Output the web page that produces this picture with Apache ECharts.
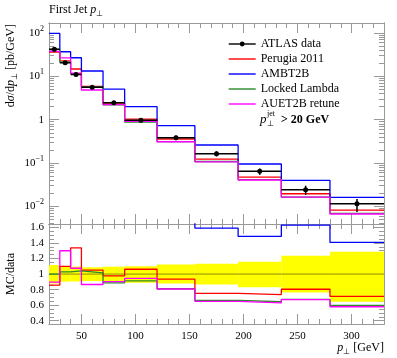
<!DOCTYPE html>
<html><head><meta charset="utf-8">
<script src="https://cdn.jsdelivr.net/npm/echarts@6/dist/echarts.min.js"></script>
<style>html,body{margin:0;padding:0;background:#fff}#c{width:397px;height:358px}</style>
</head><body><div id="c"></div>
<script>
// ---- data ----
const binEdges = [20,30,40,50,70,90,120,155,195,235,280,330];
const dataCenters = [25,35,45,60,80,105,137.5,175,215,257.5,305];
const atlasData = [42,20.6,11.1,5.6,2.47,0.97,0.384,0.164,0.0645,0.0243,0.0115];
const bandHi = [1.116,1.098,1.096,1.087,1.095,1.10,1.122,1.133,1.158,1.236,1.288];
const bandLo = [0.880,0.903,0.905,0.910,0.900,0.888,0.879,0.866,0.829,0.763,0.645];
const perugia = [36.1,22.7,14.8,5.88,2.41,1.03,0.359,0.1235,0.0475,0.0196,0.0082];
const ambt2b = [98,37,26.9,13.3,5.1,2.0,0.727,0.261,0.095,0.040,0.0162];
const lockedLambda = [42,21.2,11.55,5.69,2.19,0.885,0.311,0.1086,0.0415,0.0164,0.00688];
const auet2b = [37.7,26.8,11.9,4.85,2.23,0.918,0.310,0.1066,0.0406,0.0163,0.00667];
const ratioData = [1,1,1,1,1,1,1,1,1,1,1];
const ratioPerugia = [0.858,1.10,1.336,1.052,0.976,1.062,0.935,0.753,0.736,0.805,0.712];
const ratioAmbt2b = [2.33,1.80,2.42,2.38,2.06,2.06,1.89,1.592,1.484,1.63,1.407];
const ratioLocked = [1.0,1.028,1.041,1.016,0.886,0.912,0.811,0.662,0.644,0.675,0.598];
const ratioAuet2b = [0.897,1.30,1.075,0.866,0.902,0.946,0.808,0.65,0.629,0.671,0.58];
const xTickValues = [50,100,150,200,250,300];
const yTickValues = [0.01,0.1,1,10,100];
const yTickLabels = ['10{s|−2}','10{s|−1}','1','10{s|1}','10{s|2}'];
const ratioTickValues = [0.4,0.6,0.8,1,1.2,1.4,1.6];
const seriesNames = ['ATLAS data','Perugia 2011','AMBT2B','Locked Lambda','AUET2B retune'];
const seriesColors = ['#000000','#ff0000','#0000ff','#2a8a2a','#ff00ff'];

// ---- styling / layout ----
const FONT = 'Liberation Serif';
const AX = '#999999';
const X_MIN = 20, X_MAX = 330;
const Y_MIN = Math.pow(10,-2.406), Y_MAX = Math.pow(10,2.231);
const R_MIN = 0.358, R_MAX = 1.644;
const xMinor = []; for (let v = 20; v <= 330; v += 10) xMinor.push(v);
const yMinor = []; for (let e = -3; e <= 2; e++) for (let k = 2; k <= 9; k++) { const v = k*Math.pow(10,e); if (v > Y_MIN && v < Y_MAX) yMinor.push(v); }
const rMinor = []; for (let i = 8; i <= 32; i++) rMinor.push(Math.round(i*5)/100);

function stepData(vals){ const d = vals.map((v,i)=>[binEdges[i], v]); d.push([binEdges[binEdges.length-1], vals[vals.length-1]]); return d; }

function xAx(grid,pos,ticks,len,labels){
  return {type:'value',gridIndex:grid,position:pos,min:X_MIN,max:X_MAX,
    axisLine:{show:true,onZero:false,lineStyle:{color:AX,width:1}},
    axisTick:{show:true,inside:true,length:len,customValues:ticks,lineStyle:{color:AX,width:1}},
    axisLabel:{show:labels,customValues:xTickValues,margin:7,fontSize:11,fontFamily:FONT,color:'#000'},
    splitLine:{show:false}};
}
function yAxLog(grid,pos,ticks,len,labels){
  return {type:'log',logBase:10,gridIndex:grid,position:pos,min:Y_MIN,max:Y_MAX,
    axisLine:{show:true,onZero:false,lineStyle:{color:AX,width:1}},
    axisTick:{show:true,inside:true,length:len,customValues:ticks,lineStyle:{color:AX,width:1}},
    axisLabel:{show:labels,customValues:yTickValues,margin:5,fontSize:11,fontFamily:FONT,color:'#000',lineHeight:16,
      formatter:function(v){const i=yTickValues.findIndex(t=>Math.abs(Math.log10(t)-Math.log10(v))<1e-6);return i>=0?yTickLabels[i]:'';},
      rich:{s:{fontSize:8,fontFamily:FONT,lineHeight:8,verticalAlign:'top',color:'#000'}}},
    splitLine:{show:false}};
}
function yAxR(grid,pos,ticks,len,labels){
  return {type:'value',gridIndex:grid,position:pos,min:R_MIN,max:R_MAX,
    axisLine:{show:true,onZero:false,lineStyle:{color:AX,width:1}},
    axisTick:{show:true,inside:true,length:len,customValues:ticks,lineStyle:{color:AX,width:1}},
    axisLabel:{show:labels,customValues:ratioTickValues,margin:5,fontSize:11,fontFamily:FONT,color:'#000'},
    splitLine:{show:false}};
}

const g0 = {left:49,top:23,width:335,height:201};
const g1 = {left:49,top:224,width:335,height:100};

function mcTop(name,vals,color,z){
  return {type:'line',name:name,xAxisIndex:0,yAxisIndex:0,data:stepData(vals),step:'end',symbol:'none',
    lineStyle:{color:color,width:1.3},itemStyle:{color:color},silent:true,z:z};
}
function mcRatio(name,vals,color,z){
  return {type:'line',name:name,xAxisIndex:4,yAxisIndex:4,data:stepData(vals),step:'end',symbol:'none',clip:true,
    lineStyle:{color:color,width:1.3},itemStyle:{color:color},silent:true,z:z};
}

// data horizontal bars with marker at centre
const dataLine = [];
atlasData.forEach((v,i)=>{
  dataLine.push({value:[binEdges[i],v],symbol:'none'});
  dataLine.push({value:[dataCenters[i],v]});
  dataLine.push({value:[binEdges[i+1],v],symbol:'none'});
  dataLine.push({value:[binEdges[i+1],'-'],symbol:'none'});
});
const errData = atlasData.map((v,i)=>[dataCenters[i], v*bandLo[i], v*bandHi[i]]);
const bandData = bandLo.map((lo,i)=>[binEdges[i], binEdges[i+1], lo, bandHi[i]]);

const rich = {
  n:{fontFamily:FONT,fontSize:12,lineHeight:16,color:'#000'},
  i:{fontFamily:FONT,fontSize:12,fontStyle:'italic',lineHeight:16,color:'#000'},
  b:{fontFamily:FONT,fontSize:8,lineHeight:8,verticalAlign:'bottom',color:'#000'}
};

const legendData = seriesNames.map((n,i)=> i===0 ? {name:n} : {name:n,itemStyle:{opacity:0}});

const option = {
  animation:false,
  textStyle:{fontFamily:FONT},
  grid:[g0,g0,g1,g1],
  xAxis:[
    xAx(0,'bottom',xTickValues,10,false), xAx(0,'top',xTickValues,10,false),
    xAx(1,'bottom',xMinor,5,false), xAx(1,'top',xMinor,5,false),
    xAx(2,'bottom',xTickValues,10,true), xAx(2,'top',xTickValues,10,false),
    xAx(3,'bottom',xMinor,5,false), xAx(3,'top',xMinor,5,false)
  ],
  yAxis:[
    yAxLog(0,'left',yTickValues,10,true), yAxLog(0,'right',yTickValues,10,false),
    yAxLog(1,'left',yMinor,5,false), yAxLog(1,'right',yMinor,5,false),
    yAxR(2,'left',ratioTickValues,10,true), yAxR(2,'right',ratioTickValues,10,false),
    yAxR(3,'left',rMinor,5,false), yAxR(3,'right',rMinor,5,false)
  ],
  legend:{orient:'vertical',left:228,top:38,padding:0,itemWidth:27,itemHeight:6,itemGap:3,
    data:legendData,textStyle:{fontFamily:FONT,fontSize:12,color:'#000'},lineStyle:{width:1.4},selectedMode:false},
  series:[
    mcTop(seriesNames[1],perugia,seriesColors[1],2),
    mcTop(seriesNames[2],ambt2b,seriesColors[2],2),
    mcTop(seriesNames[3],lockedLambda,seriesColors[3],2),
    mcTop(seriesNames[4],auet2b,seriesColors[4],2),
    {type:'line',name:seriesNames[0],xAxisIndex:0,yAxisIndex:0,data:dataLine,symbol:'circle',symbolSize:5,showSymbol:true,
      connectNulls:false,lineStyle:{color:'#000',width:1.5},itemStyle:{color:'#000'},silent:true,z:5},
    {type:'custom',name:'err',xAxisIndex:0,yAxisIndex:0,data:errData,encode:{x:0,y:[1,2]},silent:true,z:5,
      renderItem:function(p,api){const a=api.coord([api.value(0),api.value(1)]),b=api.coord([api.value(0),api.value(2)]);
        return {type:'line',shape:{x1:a[0],y1:a[1],x2:b[0],y2:b[1]},style:{stroke:'#000',lineWidth:1.5}};}},
    {type:'custom',name:'band',xAxisIndex:4,yAxisIndex:4,data:bandData,encode:{x:[0,1],y:[2,3]},silent:true,z:1,
      renderItem:function(p,api){const a=api.coord([api.value(0),api.value(3)]),b=api.coord([api.value(1),api.value(2)]);
        return {type:'rect',shape:{x:a[0],y:a[1],width:b[0]-a[0],height:b[1]-a[1]},style:{fill:'#ffff00'}};}},
    {type:'line',name:'data ratio',xAxisIndex:4,yAxisIndex:4,data:stepData(ratioData),step:'end',symbol:'none',
      lineStyle:{color:'#000',width:1,opacity:0.45},silent:true,z:2},
    mcRatio(seriesNames[1],ratioPerugia,seriesColors[1],3),
    mcRatio(seriesNames[2],ratioAmbt2b,seriesColors[2],3),
    mcRatio(seriesNames[3],ratioLocked,seriesColors[3],3),
    mcRatio(seriesNames[4],ratioAuet2b,seriesColors[4],3)
  ],
  graphic:[
    {type:'text',x:49,y:10,style:{text:'{n|First Jet }{i|p}{b|⊥}',rich:rich,verticalAlign:'middle',align:'left'}},
    {type:'text',x:11,y:24,rotation:Math.PI/2,style:{text:'{n|d}{i|σ}{n|/d}{i|p}{b|⊥}{n| [pb/GeV]}',rich:rich,verticalAlign:'middle',align:'right'}},
    {type:'text',x:11,y:274,rotation:Math.PI/2,style:{text:'{n|MC/data}',rich:rich,verticalAlign:'middle',align:'center'}},
    {type:'text',x:384,y:348,style:{text:'{i|p}{b|⊥}{n| [GeV]}',rich:rich,verticalAlign:'middle',align:'right'}},
    {type:'text',x:260,y:120,style:{text:'p',fontFamily:FONT,fontSize:13,fontStyle:'italic',fill:'#000',verticalAlign:'middle',align:'left'}},
    {type:'text',x:267,y:114,style:{text:'jet',fontFamily:FONT,fontSize:8,fill:'#000',verticalAlign:'middle',align:'left'}},
    {type:'text',x:267,y:124,style:{text:'⊥',fontFamily:FONT,fontSize:8,fill:'#000',verticalAlign:'middle',align:'left'}},
    {type:'text',x:281,y:120,style:{text:'> 20 GeV',fontFamily:FONT,fontSize:12,fontWeight:'bold',fill:'#000',verticalAlign:'middle',align:'left'}}
  ]
};
const chart = echarts.init(document.getElementById('c'),null,{renderer:'canvas'});
chart.setOption(option);
</script></body></html>
